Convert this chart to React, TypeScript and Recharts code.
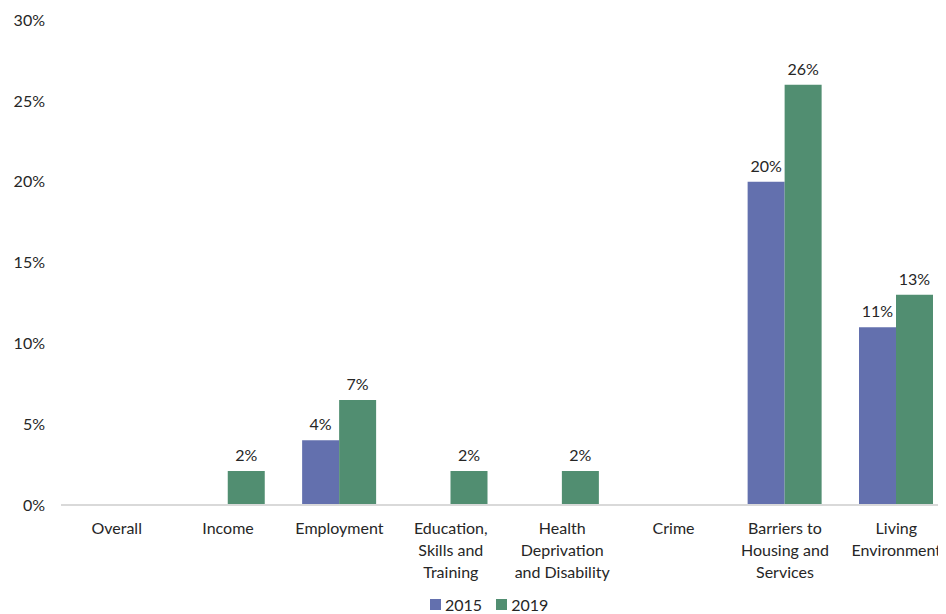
import { Bar, BarChart, LabelList, XAxis, YAxis } from "recharts";

const categories = [
  "Overall",
  "Income",
  "Employment",
  "Education,\nSkills and\nTraining",
  "Health\nDeprivation\nand Disability",
  "Crime",
  "Barriers to\nHousing and\nServices",
  "Living\nEnvironment",
];
const values2015: (number | null)[] = [null, null, 4.0, null, null, null, 20.0, 11.0];
const values2019: (number | null)[] = [null, 2.1, 6.5, 2.1, 2.1, null, 26.0, 13.0];
const yTicks = [0, 5, 10, 15, 20, 25, 30];

const BLUE = "#6370AE";
const GREEN = "#518E71";
const TEXT = "#262626";
const FONT = "Lato, 'Open Sans', sans-serif";

const data = categories.map((name, i) => ({
  name,
  y2015: values2015[i],
  y2019: values2019[i],
}));

/** Multi-line category label, split on "\n". */
function CategoryTick({ x, y, payload }: any) {
  const lines = String(payload.value).split("\n");
  return (
    <text x={x} y={y + 21} textAnchor="middle" fill={TEXT} fontSize={16} fontFamily={FONT}>
      {lines.map((line, i) => (
        <tspan key={i} x={x} dy={i === 0 ? 0 : 22}>
          {line}
        </tspan>
      ))}
    </text>
  );
}

// Legend drawn as plain HTML so it doesn't eat into the plot area.
function LegendRow() {
  const items = [
    { label: "2015", color: BLUE },
    { label: "2019", color: GREEN },
  ];
  return (
    <div
      style={{
        position: "absolute",
        left: 422,
        top: 587,
        display: "flex",
        gap: 14,
        fontFamily: FONT,
        fontSize: 16,
        color: TEXT,
      }}
    >
      {items.map((it) => (
        <span key={it.label} style={{ display: "flex", alignItems: "center", gap: 4 }}>
          <span style={{ width: 11, height: 11, background: it.color, display: "inline-block" }} />
          {it.label}
        </span>
      ))}
    </div>
  );
}

const pct = (v: any) => (v == null ? "" : `${Math.round(Number(v))}%`);

export default function App() {
  return (
    <div style={{ width: 938, height: 606, overflow: "hidden", position: "relative" }}>
      <BarChart
        width={950}
        height={606}
        data={data}
        margin={{ top: 12, right: 6, bottom: 79, left: 0 }}
        barCategoryGap="16.5%"
        barGap={0}
      >
        <XAxis
          dataKey="name"
          interval={0}
          tickLine={false}
          height={30}
          axisLine={{ stroke: "#d9d9d9", strokeWidth: 2 }}
          tick={<CategoryTick />}
        />
        <YAxis
          domain={[0, 30]}
          ticks={yTicks}
          tickFormatter={(v) => `${v}%`}
          axisLine={false}
          tickLine={false}
          width={53}
          tickMargin={10}
          tick={{ fill: TEXT, fontSize: 16, fontFamily: FONT }}
        />
        <Bar dataKey="y2015" name="2015" fill={BLUE} isAnimationActive={false}>
          <LabelList
            dataKey="y2015"
            position="top"
            offset={10}
            formatter={pct}
            fill={TEXT}
            fontSize={16}
            fontFamily={FONT}
          />
        </Bar>
        <Bar dataKey="y2019" name="2019" fill={GREEN} isAnimationActive={false}>
          <LabelList
            dataKey="y2019"
            position="top"
            offset={10}
            formatter={pct}
            fill={TEXT}
            fontSize={16}
            fontFamily={FONT}
          />
        </Bar>
      </BarChart>
      <LegendRow />
    </div>
  );
}
